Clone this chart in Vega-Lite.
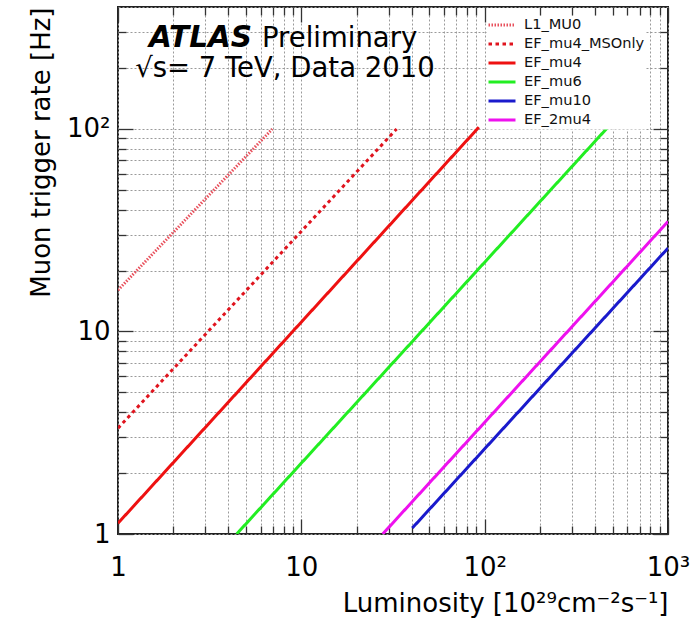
{
  "$schema": "https://vega.github.io/schema/vega-lite/v6.json",
  "width": 550,
  "height": 527,
  "autosize": {"type": "none"},
  "padding": {"left": 118, "top": 7, "right": 25, "bottom": 93},
  "background": "white",
  "config": {
    "font": "DejaVu Sans",
    "view": {"stroke": "#222", "strokeWidth": 2},
    "axis": {
      "labelFont": "DejaVu Sans",
      "titleFont": "DejaVu Sans",
      "labelColor": "black",
      "titleColor": "black",
      "tickColor": "#333",
      "tickWidth": 1.3,
      "gridColor": "#9a9a9a",
      "gridDash": [2, 2],
      "gridWidth": 1,
      "domain": false
    }
  },
  "datasets": {
    "lines": [
      {"series": "L1_MU0", "lumi": 1, "rate": 16.0},
      {"series": "L1_MU0", "lumi": 6.95, "rate": 100},
      {"series": "EF_mu4_MSOnly", "lumi": 1, "rate": 3.33},
      {"series": "EF_mu4_MSOnly", "lumi": 33.1, "rate": 100},
      {"series": "EF_mu4", "lumi": 1, "rate": 1.13},
      {"series": "EF_mu4", "lumi": 93, "rate": 102},
      {"series": "EF_mu6", "lumi": 4.44, "rate": 1},
      {"series": "EF_mu6", "lumi": 464, "rate": 100.7},
      {"series": "EF_mu10", "lumi": 40.3, "rate": 1.07},
      {"series": "EF_mu10", "lumi": 1000, "rate": 25.8},
      {"series": "EF_2mu4", "lumi": 27.8, "rate": 1},
      {"series": "EF_2mu4", "lumi": 1000, "rate": 34.9}
    ],
    "atlas": [
      {"lx": 1.476, "ly": 254, "label": "ATLAS"}
    ],
    "notes": [
      {"lx": 6.1, "ly": 254, "label": "Preliminary"},
      {"lx": 1.24, "ly": 180.7, "label": "√s= 7 TeV, Data 2010"}
    ]
  },
  "layer": [
    {
      "data": {"name": "lines"},
      "mark": {"type": "line", "strokeWidth": 3, "clip": true},
      "encoding": {
        "x": {
          "field": "lumi", "type": "quantitative",
          "scale": {"type": "log", "domain": [1, 1000], "nice": false},
          "axis": {
            "orient": "bottom",
            "values": [1,2,3,4,5,6,7,8,9,10,20,30,40,50,60,70,80,90,100,200,300,400,500,600,700,800,900,1000],
            "labelExpr": "datum.value == 1 ? '1' : datum.value == 10 ? '10' : datum.value == 100 ? '10²' : datum.value == 1000 ? '10³' : ''",
            "ticks": false,
            "grid": true,
            "labelFontSize": 26,
            "labelPadding": 20,
            "labelFlush": false,
            "labelOverlap": false,
            "labelBound": false,
            "title": "Luminosity [10²⁹cm⁻²s⁻¹]",
            "titleFontSize": 26,
            "titleFontWeight": "normal",
            "titleAnchor": "end",
            "titlePadding": 10
          }
        },
        "y": {
          "field": "rate", "type": "quantitative",
          "scale": {"type": "log", "domain": [1, 400], "nice": false},
          "axis": {
            "orient": "left",
            "values": [1,2,3,4,5,6,7,8,9,10,20,30,40,50,60,70,80,90,100,200,300,400],
            "labelExpr": "datum.value == 1 ? '1' : datum.value == 10 ? '10' : datum.value == 100 ? '10²' : ''",
            "ticks": false,
            "grid": true,
            "labelFontSize": 26,
            "labelPadding": 8,
            "labelFlush": false,
            "labelOverlap": false,
            "labelBound": false,
            "title": "Muon trigger rate [Hz]",
            "titleFontSize": 26,
            "titleFontWeight": "normal",
            "titleAnchor": "end",
            "titlePadding": 12
          }
        },
        "color": {
          "field": "series", "type": "nominal",
          "scale": {
            "domain": ["L1_MU0", "EF_mu4_MSOnly", "EF_mu4", "EF_mu6", "EF_mu10", "EF_2mu4"],
            "range": ["#e8505c", "#e0141e", "#ee1111", "#22ee22", "#1a1acc", "#ee11ee"]
          },
          "legend": {
            "title": null, "orient": "none", "legendX": 369, "legendY": 8.5,
            "fillColor": "white", "padding": 0, "labelFont": "DejaVu Sans",
            "labelFontSize": 14.6, "labelColor": "#111", "symbolType": "stroke",
            "symbolSize": 729, "symbolStrokeWidth": 3, "labelOffset": 7, "rowPadding": 0, "clipHeight": 18.8
          }
        },
        "strokeDash": {
          "field": "series", "type": "nominal",
          "scale": {
            "domain": ["L1_MU0", "EF_mu4_MSOnly", "EF_mu4", "EF_mu6", "EF_mu10", "EF_2mu4"],
            "range": [[1.5, 1.5], [3.5, 3.5], [1, 0], [1, 0], [1, 0], [1, 0]]
          },
          "legend": {
            "title": null, "orient": "none", "legendX": 369, "legendY": 8.5,
            "fillColor": "white", "padding": 0, "labelFont": "DejaVu Sans",
            "labelFontSize": 14.6, "labelColor": "#111", "symbolType": "stroke",
            "symbolSize": 729, "symbolStrokeWidth": 3, "labelOffset": 7, "rowPadding": 0, "clipHeight": 18.8
          }
        }
      }
    },
    {
      "data": {"name": "lines"},
      "mark": {"type": "line", "opacity": 0},
      "encoding": {
        "detail": {"field": "series"},
        "x": {
          "field": "lumi", "type": "quantitative",
          "scale": {"type": "log", "domain": [1, 1000], "nice": false},
          "axis": {"orient": "bottom", "values": [1, 10, 100, 1000], "labels": false, "grid": false, "ticks": true, "tickSize": -15, "title": null}
        },
        "y": {
          "field": "rate", "type": "quantitative",
          "scale": {"type": "log", "domain": [1, 400], "nice": false},
          "axis": {"orient": "left", "values": [1, 10, 100], "labels": false, "grid": false, "ticks": true, "tickSize": -15, "title": null}
        }
      }
    },
    {
      "data": {"name": "lines"},
      "mark": {"type": "line", "opacity": 0},
      "encoding": {
        "detail": {"field": "series"},
        "x": {
          "field": "lumi", "type": "quantitative",
          "scale": {"type": "log", "domain": [1, 1000], "nice": false},
          "axis": {"orient": "bottom", "values": [2,3,4,5,6,7,8,9,20,30,40,50,60,70,80,90,200,300,400,500,600,700,800,900], "labels": false, "grid": false, "ticks": true, "tickSize": -8, "title": null}
        },
        "y": {
          "field": "rate", "type": "quantitative",
          "scale": {"type": "log", "domain": [1, 400], "nice": false},
          "axis": {"orient": "left", "values": [2,3,4,5,6,7,8,9,20,30,40,50,60,70,80,90,200,300], "labels": false, "grid": false, "ticks": true, "tickSize": -8, "title": null}
        }
      }
    },
    {
      "data": {"name": "lines"},
      "mark": {"type": "line", "opacity": 0},
      "encoding": {
        "detail": {"field": "series"},
        "x": {
          "field": "lumi", "type": "quantitative",
          "scale": {"type": "log", "domain": [1, 1000], "nice": false},
          "axis": {"orient": "top", "values": [1, 10, 100, 1000], "labels": false, "grid": false, "ticks": true, "tickSize": -15, "title": null, "zindex": 1}
        },
        "y": {
          "field": "rate", "type": "quantitative",
          "scale": {"type": "log", "domain": [1, 400], "nice": false},
          "axis": {"orient": "right", "values": [1, 10, 100], "labels": false, "grid": false, "ticks": true, "tickSize": -15, "title": null, "zindex": 1}
        }
      }
    },
    {
      "data": {"name": "lines"},
      "mark": {"type": "line", "opacity": 0},
      "encoding": {
        "detail": {"field": "series"},
        "x": {
          "field": "lumi", "type": "quantitative",
          "scale": {"type": "log", "domain": [1, 1000], "nice": false},
          "axis": {"orient": "top", "values": [2,3,4,5,6,7,8,9,20,30,40,50,60,70,80,90,200,300,400,500,600,700,800,900], "labels": false, "grid": false, "ticks": true, "tickSize": -8, "title": null, "zindex": 1}
        },
        "y": {
          "field": "rate", "type": "quantitative",
          "scale": {"type": "log", "domain": [1, 400], "nice": false},
          "axis": {"orient": "right", "values": [2,3,4,5,6,7,8,9,20,30,40,50,60,70,80,90,200,300], "labels": false, "grid": false, "ticks": true, "tickSize": -8, "title": null, "zindex": 1}
        }
      }
    },
    {
      "data": {"name": "atlas"},
      "mark": {"type": "text", "font": "DejaVu Sans", "fontSize": 29.5, "fontWeight": "bold", "fontStyle": "italic", "align": "left", "baseline": "alphabetic", "color": "black"},
      "encoding": {
        "x": {"field": "lx", "type": "quantitative", "scale": {"type": "log", "domain": [1, 1000], "nice": false}, "axis": null},
        "y": {"field": "ly", "type": "quantitative", "scale": {"type": "log", "domain": [1, 400], "nice": false}, "axis": null},
        "text": {"field": "label"}
      }
    },
    {
      "data": {"name": "notes"},
      "mark": {"type": "text", "font": "DejaVu Sans", "fontSize": 27.5, "align": "left", "baseline": "alphabetic", "color": "black"},
      "encoding": {
        "x": {"field": "lx", "type": "quantitative", "scale": {"type": "log", "domain": [1, 1000], "nice": false}, "axis": null},
        "y": {"field": "ly", "type": "quantitative", "scale": {"type": "log", "domain": [1, 400], "nice": false}, "axis": null},
        "text": {"field": "label"}
      }
    }
  ],
  "resolve": {"axis": {"x": "independent", "y": "independent"}}
}
